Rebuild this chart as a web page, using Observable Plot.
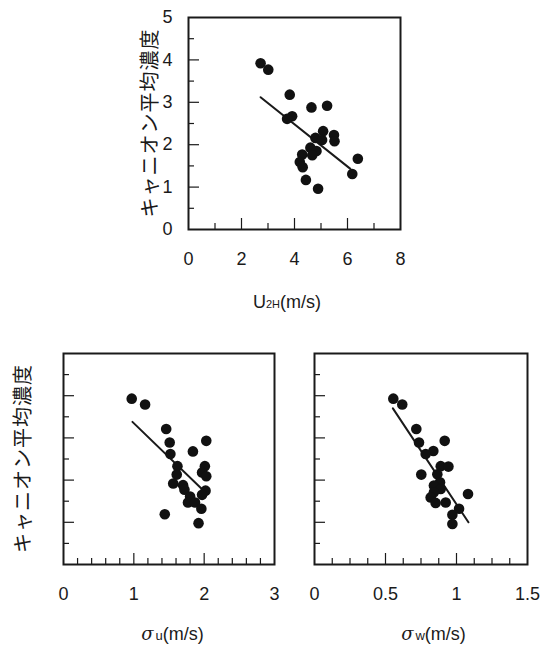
<!DOCTYPE html>
<html><head><meta charset="utf-8">
<script src="https://cdn.jsdelivr.net/npm/d3@7"></script>
<script src="https://cdn.jsdelivr.net/npm/@observablehq/plot@0.6"></script>
<style>
body{margin:0;background:#fff;}
#root{position:relative;width:542px;height:648px;overflow:hidden;}
#root svg{position:absolute;}
</style></head><body><div id="root"></div>
<script>
// Shared y axis (canyon mean concentration)
const yDomain = [0, 5];
const yMajor = [1, 2, 3, 4];
const yMinor = [0.5, 1.5, 2.5, 3.5, 4.5];
const yTickLabels = [0, 1, 2, 3, 4, 5];
const yLabel = "キャニオン平均濃度";

// Panel 1: U2H
const u2h = [2.72,3.01,3.82,4.64,5.23,3.91,3.72,5.08,5.49,4.79,5.04,5.51,4.60,4.83,4.29,4.67,4.20,4.31,6.39,6.18,4.43,4.89];
const concU = [3.92,3.77,3.18,2.88,2.92,2.67,2.61,2.32,2.23,2.16,2.11,2.08,1.93,1.85,1.77,1.75,1.59,1.47,1.67,1.31,1.17,0.96];
const fitU_x = [2.72, 6.11];
const fitU_y = [3.12, 1.43];
const uTickLabels = [0, 2, 4, 6, 8];
const uMajor = [2, 4, 6];
const uMinor = [1, 3, 5, 7];

// Panel 2: sigma u
const sigU = [0.97,1.16,1.46,2.03,1.51,1.84,1.52,1.62,2.01,1.97,2.03,1.61,1.56,1.70,1.72,2.02,1.97,1.80,1.77,1.87,1.96,1.44,1.92];
const concSu = [3.93,3.79,3.21,2.93,2.89,2.68,2.62,2.33,2.33,2.18,2.09,2.13,1.92,1.88,1.77,1.75,1.65,1.61,1.47,1.47,1.32,1.19,0.98];
const fitSu_x = [0.98, 1.96];
const fitSu_y = [3.38, 1.80];
const suTickLabels = [0, 1, 2, 3];
const suMajor = [1, 2];
const suMinor = [0.2,0.4,0.6,0.8,1.2,1.4,1.6,1.8,2.2,2.4,2.6,2.8];

// Panel 3: sigma w
const sigW = [0.555,0.618,0.717,0.917,0.736,0.837,0.783,0.889,0.943,0.865,0.752,0.884,0.841,0.889,0.841,1.081,0.818,0.853,0.924,1.018,0.971,0.971];
const concSw = [3.93,3.79,3.21,2.93,2.89,2.69,2.62,2.33,2.32,2.14,2.13,1.95,1.87,1.79,1.71,1.67,1.59,1.46,1.47,1.32,1.18,0.96];
const fitSw_x = [0.552, 1.084];
const fitSw_y = [3.70, 1.00];
const swTickLabels = [0, 0.5, 1, 1.5];
const swMajor = [0.5, 1];
const swMinor = [0.125,0.25,0.375,0.625,0.75,0.875,1.125,1.25,1.375];

const INK = "#1a1a1a";
const FONT = "'Liberation Sans', Arial, Helvetica, sans-serif";
const root = document.getElementById("root");

function panel(o) {
  const plotW = o.width - o.ml - o.mr;
  const plotH = o.height - o.mt - o.mb;
  const pts = o.xs.map((x, i) => ({x, y: o.ys[i]}));
  const fit = o.fx.map((x, i) => ({x, y: o.fy[i]}));
  const marks = [
    Plot.tickX(o.xMinor, {x: d => d, insetTop: plotH - 6, stroke: INK, strokeWidth: 1.2}),
    Plot.tickX(o.xMajor, {x: d => d, insetTop: plotH - 11, stroke: INK, strokeWidth: 1.2}),
    Plot.tickY(yMinor, {y: d => d, insetRight: plotW - 6, stroke: INK, strokeWidth: 1.2}),
    Plot.tickY(yMajor, {y: d => d, insetRight: plotW - 11, stroke: INK, strokeWidth: 1.2}),
    Plot.axisX(o.xLabels, {tickSize: 0, tickPadding: 23, fontSize: 18, label: null, tickFormat: d => String(d), fill: INK}),
    Plot.line(fit, {x: "x", y: "y", stroke: INK, strokeWidth: 2}),
    Plot.dot(pts, {x: "x", y: "y", r: 5.3, fill: "#111", stroke: null}),
    Plot.frame({stroke: INK, strokeWidth: 2})
  ];
  if (o.yLabels) marks.push(Plot.axisY(yTickLabels, {tickSize: 0, tickPadding: 16, fontSize: 18, label: null, fill: INK}));
  const svg = Plot.plot({
    width: o.width, height: o.height,
    marginLeft: o.ml, marginRight: o.mr, marginTop: o.mt, marginBottom: o.mb,
    style: {fontFamily: FONT, background: "transparent", color: INK},
    x: {domain: o.xDomain, axis: null},
    y: {domain: yDomain, axis: null},
    marks
  });
  svg.style.left = o.left + "px";
  svg.style.top = o.top + "px";
  svg.style.overflow = "visible";
  const s = d3.select(svg);
  // y label (rotated)
  if (o.yLabelX != null) {
    s.append("text")
      .attr("transform", `translate(${o.yLabelX},${o.mt + plotH / 2}) rotate(-90)`)
      .attr("text-anchor", "middle")
      .attr("dominant-baseline", "central")
      .style("font-family", "'Noto Sans CJK JP', sans-serif")
      .style("font-size", "20px")
      .style("letter-spacing", "1px")
      .attr("fill", INK)
      .text(yLabel);
  }
  // x label with small sub-part
  const t = s.append("text")
    .attr("x", o.ml + plotW / 2 + o.xLabelDx)
    .attr("y", o.height - o.mb + o.xLabelDy)
    .attr("text-anchor", "middle")
    .style("font-family", FONT)
    .style("font-size", "18px")
    .attr("fill", INK);
  t.append("tspan").style("font-style", o.mainItalic ? "italic" : "normal")
    .style("font-family", o.mainItalic ? "'DejaVu Serif', serif" : FONT).text(o.xMain);
  t.append("tspan").style("font-size", o.subSize + "px").attr("dx", o.subDx || 0).text(o.xSub);
  t.append("tspan").text("(m/s)");
  root.appendChild(svg);
}

panel({left: 0, top: 0, width: 542, height: 320, ml: 188, mr: 142, mt: 17, mb: 91,
  xs: u2h, ys: concU, fx: fitU_x, fy: fitU_y, xDomain: [0, 8],
  xMajor: uMajor, xMinor: uMinor, xLabels: uTickLabels, yLabels: true, yLabelX: 148,
  xMain: "U", xSub: "2H", subSize: 11, mainItalic: false, xLabelDx: -7, xLabelDy: 79});

panel({left: 0, top: 320, width: 290, height: 328, ml: 63, mr: 16, mt: 33, mb: 84,
  xs: sigU, ys: concSu, fx: fitSu_x, fy: fitSu_y, xDomain: [0, 3],
  xMajor: suMajor, xMinor: suMinor, xLabels: suTickLabels, yLabels: false, yLabelX: 21,
  xMain: "σ", xSub: "u", subSize: 13, mainItalic: true, subDx: 2, xLabelDx: 4, xLabelDy: 76});

panel({left: 290, top: 320, width: 252, height: 328, ml: 24, mr: 15, mt: 33, mb: 84,
  xs: sigW, ys: concSw, fx: fitSw_x, fy: fitSw_y, xDomain: [0, 1.5],
  xMajor: swMajor, xMinor: swMinor, xLabels: swTickLabels, yLabels: false, yLabelX: null,
  xMain: "σ", xSub: "w", subSize: 13, mainItalic: true, subDx: 2, xLabelDx: 13, xLabelDy: 76});
</script></body></html>
